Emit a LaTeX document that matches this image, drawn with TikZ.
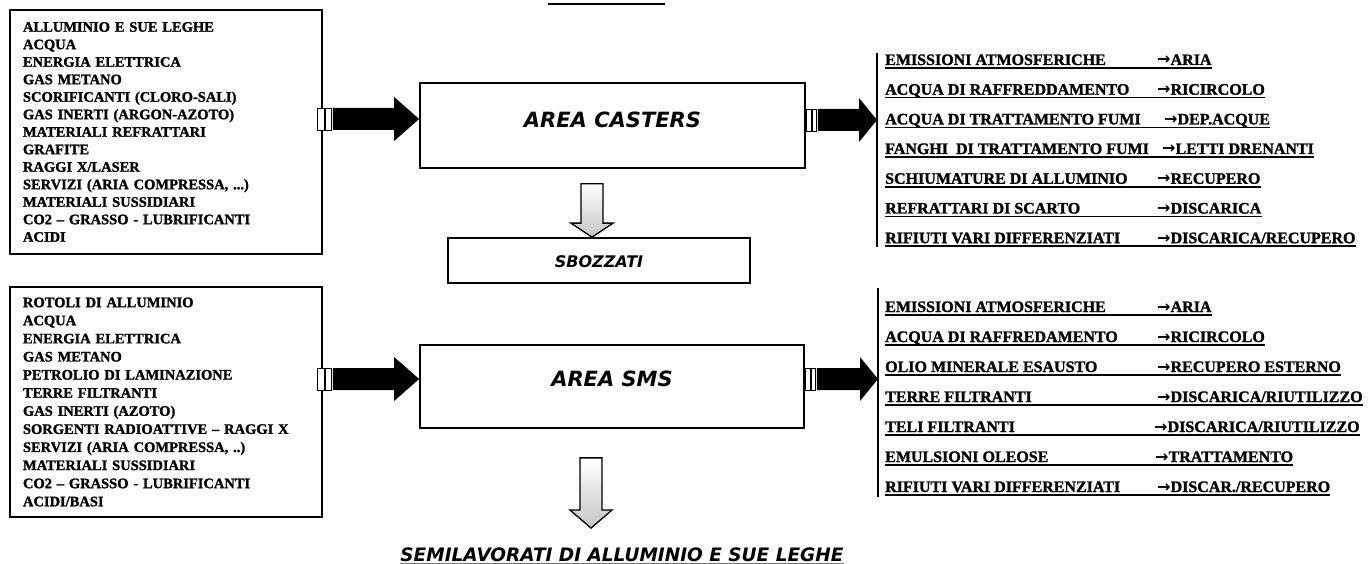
\documentclass[tikz,border=0pt]{standalone}
\usepackage{fontspec}
\setmainfont{Liberation Serif}[BoldFeatures={FakeBold=1.4}]
\newfontfamily\comic{DejaVu Sans}
\newfontfamily\arrfont{DejaVu Sans}
\usetikzlibrary{calc}
\newcommand{\arr}{{\arrfont\bfseries →}}
% #1 from point, #2 to point, #3 dy (signed), #4 stripe offset from #1 x (signed), #5 stripe width, #6 head length
\newcommand{\fatarrow}[6]{%
 \draw[line width=0.9pt,fill=white] let \p1=(#1), \p2=(#2) in (\x1#4,\y1#3-11pt) rectangle (\x1#4+#5,\y1#3+11pt);
 \fill let \p1=(#1), \p2=(#2) in (\x1#4+#5/2-1.2pt,\y1#3-11pt) rectangle (\x1#4+#5/2+1.2pt,\y1#3+11pt);
 \fill let \p1=(#1), \p2=(#2) in (\x1#4+#5+1pt,\y1#3-11pt) -- (\x2-#6,\y1#3-11pt) -- (\x2-#6,\y1#3-22pt) -- (\x2,\y1#3) -- (\x2-#6,\y1#3+22pt) -- (\x2-#6,\y1#3+11pt) -- (\x1#4+#5+1pt,\y1#3+11pt) -- cycle;
}
% #1 top of shaft, #2 tip point, #3 head length
\newcommand{\hollowdown}[3]{%
 \shadedraw[top color=white,middle color=white,bottom color=gray!45,draw=black,line width=1.3pt] let \p1=(#1), \p2=(#2) in (\x1-11pt,\y1) -- (\x1+11pt,\y1) -- (\x1+11pt,\y2+#3) -- (\x1+21pt,\y2+#3) -- (\x1,\y2) -- (\x1-21pt,\y2+#3) -- (\x1-11pt,\y2+#3) -- cycle;
}
\tikzset{
 box/.style={draw, line width=1.7pt, inner sep=0pt},
 inlist/.style={box, align=left, text width=286pt, minimum width=312pt, inner xsep=13pt, inner ysep=0pt},
 area/.style={box, font=\comic\bfseries\itshape\fontsize{21}{24}\selectfont},
 lt/.style={inner sep=0pt, anchor=base west, font=\bfseries\fontsize{16}{18}\selectfont},
 ul/.style={line width=1.6pt},
 bar/.style={line width=1.6pt},
}
\begin{document}
\begin{tikzpicture}[x=1pt,y=-1pt]
\fill[white] (0,0) rectangle (1371,564);
\useasboundingbox (0,0) rectangle (1371,564);

% title underline (text cut off)
\draw[line width=1.5pt] (548,4) -- (665,4);

% input boxes
\node[inlist, minimum height=244pt, font=\bfseries\fontsize{14.5}{17.5}\selectfont] (in1) at (166,132) {ALLUMINIO E SUE LEGHE\\ACQUA\\ENERGIA ELETTRICA\\GAS METANO\\SCORIFICANTI (CLORO-SALI)\\GAS INERTI (ARGON-AZOTO)\\MATERIALI REFRATTARI\\GRAFITE\\RAGGI X/LASER\\SERVIZI (ARIA COMPRESSA, ...)\\MATERIALI SUSSIDIARI\\CO2 – GRASSO - LUBRIFICANTI\\ACIDI};
\node[inlist, minimum height=230pt, font=\bfseries\fontsize{14.5}{18.1}\selectfont] (in2) at (166,402) {ROTOLI DI ALLUMINIO\\ACQUA\\ENERGIA ELETTRICA\\GAS METANO\\PETROLIO DI LAMINAZIONE\\TERRE FILTRANTI\\GAS INERTI (AZOTO)\\SORGENTI RADIOATTIVE – RAGGI X\\SERVIZI (ARIA COMPRESSA, ..)\\MATERIALI SUSSIDIARI\\CO2 – GRASSO - LUBRIFICANTI\\ACIDI/BASI};

% areas
\node[area, minimum width=385pt, minimum height=85pt, text height=10pt, text depth=5.6pt] (casters) at (612.5,125.5) {AREA CASTERS};
\node[area, minimum width=302pt, minimum height=45pt, text height=14.7pt, text depth=0pt, font=\comic\bfseries\itshape\fontsize{16}{18}\selectfont] (sbozz) at (599,260.5) {SBOZZATI};
\node[area, minimum width=384pt, minimum height=83pt, text height=8pt, text depth=7.6pt] (sms) at (612,386.5) {AREA SMS};
\node[inner sep=0pt, anchor=base, font=\comic\bfseries\itshape\fontsize{18.5}{20}\selectfont] (semi) at (622,561) {SEMILAVORATI DI ALLUMINIO E SUE LEGHE};
\draw[line width=0.9pt, black!55] ([yshift=-2.5pt]semi.base west) -- ([yshift=-2.5pt]semi.base east);

% bars
\coordinate (b1t) at (877,53); \coordinate (b1b) at (877,247);
\coordinate (b2t) at (878,288); \coordinate (b2b) at (878,497);
\draw[bar] (b1t) -- (b1b);
\draw[bar] (b2t) -- (b2b);

% fat arrows
\fatarrow{in1.east}{casters.west}{+13pt}{-5pt}{14pt}{25pt}
\fatarrow{in2.east}{sms.west}{+23pt}{-5pt}{14pt}{25pt}
\fatarrow{casters.east}{b1t}{+5.5pt}{+1pt}{10pt}{18pt}
\fatarrow{sms.east}{b2t}{+7.5pt}{+1pt}{10pt}{18pt}

% hollow arrows
\hollowdown{[xshift=-20.5pt,yshift=-15pt]casters.south}{sbozz.north}{14pt}
\hollowdown{[xshift=-21pt,yshift=-29pt]sms.south}{[yshift=19pt]semi.north}{18pt}

% casters outputs
\node[lt] (c1a) at (885,65) {EMISSIONI ATMOSFERICHE};
\node[lt] (c1b) at (1157,65) {\arr ARIA};
\node[lt] (c2a) at (885,94.7) {ACQUA DI RAFFREDDAMENTO};
\node[lt] (c2b) at (1157,94.7) {\arr RICIRCOLO};
\node[lt] (c3a) at (885,124.4) {ACQUA DI TRATTAMENTO FUMI};
\node[lt] (c3b) at (1164,124.4) {\arr DEP.ACQUE};
\node[lt] (c4a) at (885,154) {FANGHI\ \ DI TRATTAMENTO FUMI};
\node[lt] (c4b) at (1162,154) {\arr LETTI DRENANTI};
\node[lt] (c5a) at (885,183.8) {SCHIUMATURE DI ALLUMINIO};
\node[lt] (c5b) at (1157,183.8) {\arr RECUPERO};
\node[lt] (c6a) at (885,213.5) {REFRATTARI DI SCARTO};
\node[lt] (c6b) at (1157,213.5) {\arr DISCARICA};
\node[lt] (c7a) at (885,243.2) {RIFIUTI VARI DIFFERENZIATI};
\node[lt] (c7b) at (1157,243.2) {\arr DISCARICA/RECUPERO};
\foreach \i in {1,...,7} {\draw[ul] ([yshift=-3pt]c\i a.base west) -- ([yshift=-3pt]c\i b.base east);}

% sms outputs
\node[lt] (s1a) at (885,312) {EMISSIONI ATMOSFERICHE};
\node[lt] (s1b) at (1157,312) {\arr ARIA};
\node[lt] (s2a) at (885,342) {ACQUA DI RAFFREDAMENTO};
\node[lt] (s2b) at (1157,342) {\arr RICIRCOLO};
\node[lt] (s3a) at (885,372) {OLIO MINERALE ESAUSTO};
\node[lt] (s3b) at (1157,372) {\arr RECUPERO ESTERNO};
\node[lt] (s4a) at (885,402) {TERRE FILTRANTI};
\node[lt] (s4b) at (1157,402) {\arr DISCARICA/RIUTILIZZO};
\node[lt] (s5a) at (885,432) {TELI FILTRANTI};
\node[lt] (s5b) at (1154,432) {\arr DISCARICA/RIUTILIZZO};
\node[lt] (s6a) at (885,462) {EMULSIONI OLEOSE};
\node[lt] (s6b) at (1155,462) {\arr TRATTAMENTO};
\node[lt] (s7a) at (885,492) {RIFIUTI VARI DIFFERENZIATI};
\node[lt] (s7b) at (1157,492) {\arr DISCAR./RECUPERO};
\foreach \i in {1,...,7} {\draw[ul] ([yshift=-3pt]s\i a.base west) -- ([yshift=-3pt]s\i b.base east);}
\end{tikzpicture}
\end{document}
